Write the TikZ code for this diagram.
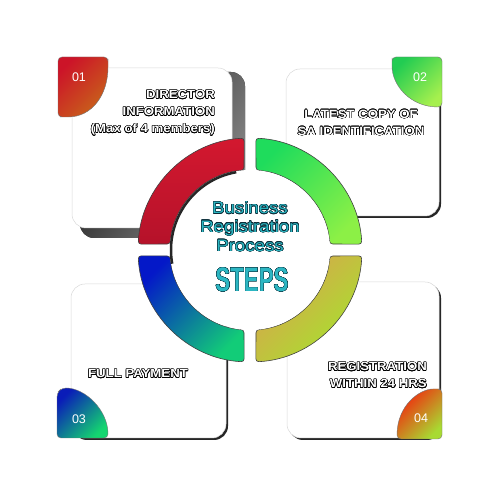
\documentclass[tikz,border=0pt]{standalone}
\usepackage{fontspec}
\setmainfont{Liberation Sans}
\usepackage{graphicx}
\usepackage{contour}
\contourlength{0.45pt}
\definecolor{segred}{HTML}{D3182F}
\definecolor{segredd}{HTML}{B5122A}
\definecolor{greenA}{HTML}{1FDC5C}
\definecolor{greenB}{HTML}{8CF046}
\definecolor{yelA}{HTML}{DBA24E}
\definecolor{yelB}{HTML}{A6E22E}
\definecolor{blueA}{HTML}{0418C8}
\definecolor{blueB}{HTML}{12CC78}
\definecolor{b1A}{HTML}{CC1428}
\definecolor{b1B}{HTML}{C8641A}
\definecolor{b2A}{HTML}{22CC52}
\definecolor{b2B}{HTML}{A6F04E}
\definecolor{b3A}{HTML}{0A1CB8}
\definecolor{b3B}{HTML}{14D670}
\definecolor{b4A}{HTML}{F2280E}
\definecolor{b4B}{HTML}{A8DA32}
\definecolor{tealtx}{HTML}{2CB6C2}
\definecolor{tealdk}{HTML}{0B2E3A}
\newcommand{\outl}[1]{\scalebox{1.1}[1]{\contour{black}{#1}}}
\newcommand{\tealt}[1]{\scalebox{1.13}[1]{\textcolor{tealtx}{\contour{tealdk}{#1}}}}
\begin{document}
\begin{tikzpicture}[x=1pt,y=1pt,
  card/.style={fill=white, draw=black!15, line width=0.5pt, rounded corners=14pt, inner sep=0pt},
  cardshadow/.style={fill=black!85, rounded corners=14pt, inner sep=0pt},
  seg/.style={draw=black!75, line width=0.6pt, rounded corners=3pt},
  badge/.style={draw=black!55, line width=0.4pt, rounded corners=4pt},
  num/.style={text=white, font=\fontsize{12.5}{12.5}\selectfont},
  lbl/.style={text=white, font=\bfseries\fontsize{12}{17}\selectfont, inner sep=0pt},
  ttl/.style={inner sep=0pt, font=\fontsize{16.5}{16.5}\selectfont},
  core/.style={circle, fill=white, minimum size=160pt, inner sep=0pt}]
\useasboundingbox (0,0) rectangle (500,500);
\fill[white] (0,0) rectangle (500,500);

% card shadows
\node[cardshadow, minimum width=165pt, minimum height=166pt, left color=black!90, right color=black!45, shading angle=60] (s1) at (162.5,345) {};
\node[cardshadow, minimum width=153pt, minimum height=147pt] (s2) at (364.5,355.5) {};
\node[cardshadow, minimum width=155pt, minimum height=154pt] (s3) at (150.5,137) {};
\node[cardshadow, minimum width=152pt, minimum height=156pt] (s4) at (365,138) {};

% cards
\node[card, minimum width=160pt, minimum height=160pt] (c1) at (152,352) {};
\node[card, minimum width=153pt, minimum height=147pt] (c2) at (362.5,357.5) {};
\node[card, minimum width=155pt, minimum height=154pt] (c3) at (148.5,139) {};
\node[card, minimum width=152pt, minimum height=156pt] (c4) at (363,140) {};

% badges
\path[badge, top color=b1A, bottom color=b1B, shading angle=45]
  (58,383) -- (58,443) -- (108,443) -- (108,437) .. controls (108,405) and (92,383) .. (64,383) -- cycle;
\path[badge, top color=b2A, bottom color=b2B, shading angle=45]
  (392,443) -- (442,443) -- (442,393) .. controls (410,393) and (392,415) .. (392,438) -- cycle;
\path[badge, top color=b3A, bottom color=b3B, shading angle=45]
  (57,107) -- (57,62) -- (108,62) .. controls (108,90) and (85,112) .. (62,112) -- cycle;
\path[badge, top color=b4A, bottom color=b4B, shading angle=45]
  (442,111) -- (442,61) -- (397,61) .. controls (397,95) and (420,111) .. (437,111) -- cycle;
\node[num] (n1) at (79,423) {01};
\node[num] (n2) at (420,423) {02};
\node[num] (n3) at (79,81) {03};
\node[num] (n4) at (421,82) {04};

% ring
\begin{scope}[shift={(250,250)}]
\path[seg, top color=segred, bottom color=segredd]
  (93:112) arc[start angle=93, end angle=177, radius=112] -- (175.7:80) arc[start angle=175.7, end angle=94.3, radius=80] -- cycle;
\path[seg, top color=greenA, bottom color=greenB, shading angle=45]
  (3:112) arc[start angle=3, end angle=87, radius=112] -- (85.7:80) arc[start angle=85.7, end angle=4.3, radius=80] -- cycle;
\path[seg, top color=yelA, bottom color=yelB, shading angle=45]
  (273:112) arc[start angle=273, end angle=357, radius=112] -- (355.7:80) arc[start angle=355.7, end angle=274.3, radius=80] -- cycle;
\path[seg, top color=blueA, bottom color=blueB, shading angle=45]
  (183:112) arc[start angle=183, end angle=267, radius=112] -- (265.7:80) arc[start angle=265.7, end angle=184.3, radius=80] -- cycle;
\end{scope}
\node[core] (core) at (250,250) {};
\begin{scope}[shift={(250,250)}]
\draw[black!85, line width=2.5pt] (100:79) arc[start angle=100, end angle=190, radius=79];
\end{scope}

% labels
\node[lbl, align=right, anchor=east] (t1) at (215,387) {\outl{DIRECTOR}\\\outl{INFORMATION}\\\outl{(Max of 4 members)}};
\node[lbl, align=center] (t2) at (361,377) {\outl{LATEST COPY OF}\\\outl{SA IDENTIFICATION}};
\node[lbl] (t3) at (138,126) {\outl{FULL PAYMENT}};
\node[lbl, align=right, anchor=east] (t4) at (427,124.5) {\outl{REGISTRATION}\\\outl{WITHIN 24 HRS}};

% centre text
\node[ttl] (ttl1) at (250,292) {\tealt{Business}};
\node[ttl] (ttl2) at (250,272) {\tealt{Registration}};
\node[ttl] (ttl3) at (250,254) {\tealt{Process}};
\node[inner sep=0pt, font=\bfseries\fontsize{34}{34}\selectfont] (steps) at (252,220) {\scalebox{0.58}[1]{\tealt{STEPS}}};
\end{tikzpicture}
\end{document}
